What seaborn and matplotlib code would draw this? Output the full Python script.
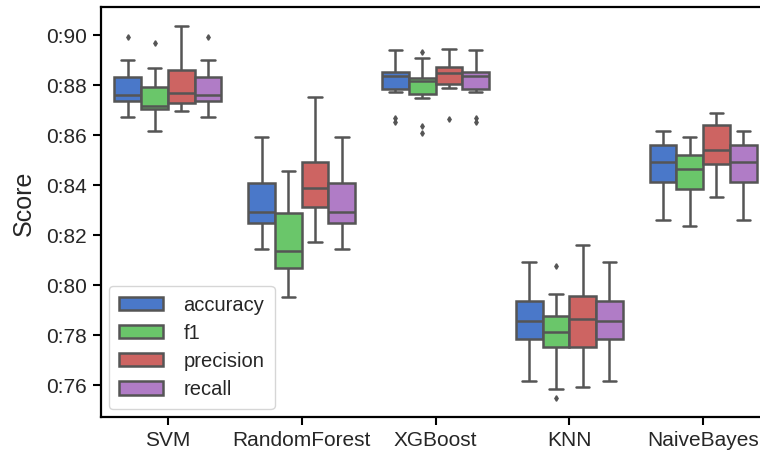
import numpy as np
import pandas as pd
import seaborn as sns
import matplotlib
matplotlib.use("Agg")
import matplotlib.pyplot as plt
from matplotlib.ticker import FuncFormatter, FixedLocator

models = ["SVM", "RandomForest", "XGBoost", "KNN", "NaiveBayes"]
metrics = ["accuracy", "f1", "precision", "recall"]

# per-fold scores (13 folds each)
svm_accuracy = [0.8671, 0.8671, 0.8671, 0.8737, 0.8737, 0.8760, 0.8760, 0.8760, 0.8833, 0.8833, 0.8900, 0.8900, 0.8991]
svm_f1 = [0.8616, 0.8616, 0.8616, 0.8705, 0.8705, 0.8716, 0.8716, 0.8716, 0.8793, 0.8793, 0.8867, 0.8867, 0.8967]
svm_precision = [0.8696, 0.8696, 0.8696, 0.8727, 0.8727, 0.8767, 0.8767, 0.8767, 0.8860, 0.8860, 0.9036, 0.9036, 0.9036]
svm_recall = [0.8671, 0.8671, 0.8671, 0.8737, 0.8737, 0.8760, 0.8760, 0.8760, 0.8833, 0.8833, 0.8900, 0.8900, 0.8991]

rf_accuracy = [0.8143, 0.8143, 0.8143, 0.8249, 0.8249, 0.8291, 0.8291, 0.8291, 0.8407, 0.8407, 0.8593, 0.8593, 0.8593]
rf_f1 = [0.7953, 0.7953, 0.7953, 0.8069, 0.8069, 0.8136, 0.8136, 0.8136, 0.8287, 0.8287, 0.8456, 0.8456, 0.8456]
rf_precision = [0.8171, 0.8171, 0.8171, 0.8313, 0.8313, 0.8389, 0.8389, 0.8389, 0.8493, 0.8493, 0.8751, 0.8751, 0.8751]
rf_recall = [0.8143, 0.8143, 0.8143, 0.8249, 0.8249, 0.8291, 0.8291, 0.8291, 0.8407, 0.8407, 0.8593, 0.8593, 0.8593]

xgb_accuracy = [0.8653, 0.8667, 0.8773, 0.8784, 0.8784, 0.8836, 0.8836, 0.8836, 0.8851, 0.8851, 0.8940, 0.8940, 0.8940]
xgb_f1 = [0.8609, 0.8636, 0.8749, 0.8763, 0.8763, 0.8816, 0.8816, 0.8816, 0.8827, 0.8827, 0.8907, 0.8907, 0.8931]
xgb_precision = [0.8664, 0.8789, 0.8789, 0.8803, 0.8803, 0.8847, 0.8847, 0.8847, 0.8873, 0.8873, 0.8944, 0.8944, 0.8944]
xgb_recall = [0.8653, 0.8667, 0.8773, 0.8784, 0.8784, 0.8836, 0.8836, 0.8836, 0.8851, 0.8851, 0.8940, 0.8940, 0.8940]

knn_accuracy = [0.7616, 0.7616, 0.7616, 0.7784, 0.7784, 0.7856, 0.7856, 0.7856, 0.7937, 0.7937, 0.8091, 0.8091, 0.8091]
knn_f1 = [0.7547, 0.7583, 0.7583, 0.7751, 0.7751, 0.7813, 0.7813, 0.7813, 0.7876, 0.7876, 0.7964, 0.7964, 0.8075]
knn_precision = [0.7591, 0.7591, 0.7591, 0.7753, 0.7753, 0.7864, 0.7864, 0.7864, 0.7957, 0.7957, 0.8161, 0.8161, 0.8161]
knn_recall = [0.7616, 0.7616, 0.7616, 0.7784, 0.7784, 0.7856, 0.7856, 0.7856, 0.7937, 0.7937, 0.8091, 0.8091, 0.8091]

nb_accuracy = [0.8260, 0.8260, 0.8260, 0.8413, 0.8413, 0.8491, 0.8491, 0.8491, 0.8560, 0.8560, 0.8617, 0.8617, 0.8617]
nb_f1 = [0.8237, 0.8237, 0.8237, 0.8384, 0.8384, 0.8464, 0.8464, 0.8464, 0.8519, 0.8519, 0.8593, 0.8593, 0.8593]
nb_precision = [0.8351, 0.8351, 0.8351, 0.8483, 0.8483, 0.8540, 0.8540, 0.8540, 0.8640, 0.8640, 0.8687, 0.8687, 0.8687]
nb_recall = [0.8260, 0.8260, 0.8260, 0.8413, 0.8413, 0.8491, 0.8491, 0.8491, 0.8560, 0.8560, 0.8617, 0.8617, 0.8617]

yticks = [0.76, 0.78, 0.80, 0.82, 0.84, 0.86, 0.88, 0.90]

table = {
    "SVM": [svm_accuracy, svm_f1, svm_precision, svm_recall],
    "RandomForest": [rf_accuracy, rf_f1, rf_precision, rf_recall],
    "XGBoost": [xgb_accuracy, xgb_f1, xgb_precision, xgb_recall],
    "KNN": [knn_accuracy, knn_f1, knn_precision, knn_recall],
    "NaiveBayes": [nb_accuracy, nb_f1, nb_precision, nb_recall],
}
rows = []
for m in models:
    for met, vals in zip(metrics, table[m]):
        for v in vals:
            rows.append({"Model": m, "Metric": met, "Score": v})
df = pd.DataFrame(rows)

sns.set_style("ticks")
plt.rcParams["font.family"] = ["Liberation Sans", "DejaVu Sans"]

palette = ["#4a78c9", "#6ac66a", "#cd6462", "#b07cc6"]

fig = plt.figure(figsize=(7.6, 4.55), dpi=100)
ax = fig.add_axes([101 / 760, 1 - 417 / 455, 669 / 760, 410 / 455])
sns.boxplot(data=df, x="Model", y="Score", hue="Metric", order=models,
            hue_order=metrics, palette=palette, saturation=1, width=0.8,
            linecolor="#555555", linewidth=1.8,
            flierprops=dict(marker="d", markersize=2.8,
                            markerfacecolor="#555555", markeredgecolor="#555555"),
            ax=ax)

ax.set_xlim(-0.5, 4.5)
ax.set_ylim(0.7472, 0.9112)
ax.yaxis.set_major_locator(FixedLocator(yticks))
ax.yaxis.set_major_formatter(FuncFormatter(lambda v, p: f"{v:.2f}".replace(".", ":")))
ax.set_xlabel("")
ax.set_ylabel("Score", fontsize=18, labelpad=5)
ax.yaxis.set_label_coords(-0.098, 0.52)
ax.tick_params(axis="both", labelsize=15, length=6, width=1.5, color="black", pad=4)
for s in ax.spines.values():
    s.set_visible(True)
    s.set_linewidth(1.6)
    s.set_color("black")

leg = ax.legend(loc="lower left", fontsize=14.5, frameon=True, title=None,
                handlelength=2.2, handleheight=0.65, borderpad=0.5, labelspacing=0.45,
                handletextpad=1.0, borderaxespad=0.4, bbox_to_anchor=(0.0, 0.0))

fig.savefig("out.png", dpi=100)
